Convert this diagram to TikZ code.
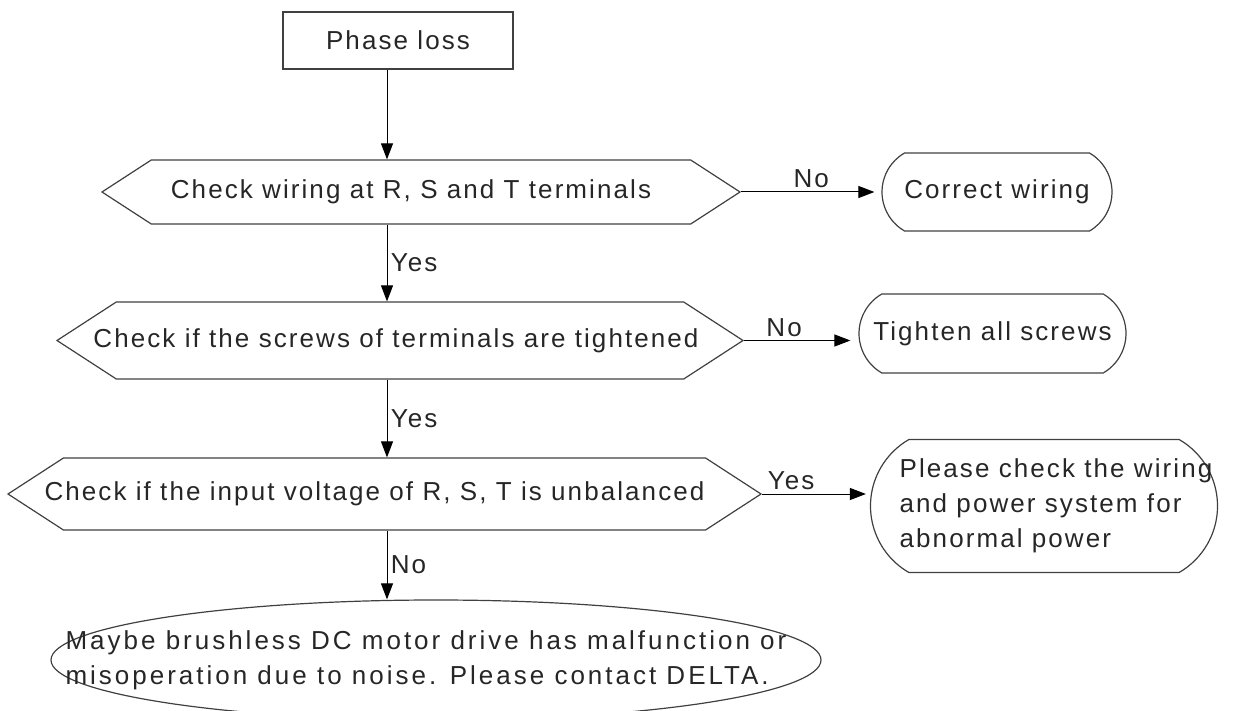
\documentclass[tikz,border=0pt]{standalone}
\usepackage{fontspec}
\setmainfont[LetterSpace=8]{Liberation Sans}
\usetikzlibrary{shapes.symbols,shapes.misc,shapes.geometric,arrows.meta}
\begin{document}
\begin{tikzpicture}[x=1pt,y=-1pt,
  every node/.style={font=\fontsize{26}{35}\selectfont, text=black!85},
  startbox/.style={draw=black!75, line width=1.2pt, minimum width=230pt, minimum height=57pt, inner sep=0pt},
  check/.style={draw=black!75, line width=1.2pt, signal, signal to=west and east, signal pointer angle=66, inner xsep=-40pt, inner ysep=0pt},
  fix/.style={draw=black!75, line width=1.2pt, rounded rectangle, rounded rectangle arc length=120, inner sep=0pt},
  flow/.style={-{Triangle[length=16pt,width=12pt]}, line width=1pt}]
\useasboundingbox (0,0) rectangle (1235,711);
\coordinate (spine) at (387,0);
% start and checks
\node[startbox] (start) at (398,40.5) {Phase loss};
\node[check, minimum width=638pt, minimum height=64pt] (wiring) at (421,192) {\hspace*{-20pt}Check wiring at R, S and T terminals};
\node[check, minimum width=686pt, minimum height=77pt] (screws) at (400,340.5) {\hspace*{-8pt}Check if the screws of terminals are tightened};
\node[check, minimum width=753pt, minimum height=72pt] (voltage) at (384.5,494) {\hspace*{-20pt}Check if the input voltage of R, S, T is unbalanced};
% remedies
\node[fix, minimum width=230pt, minimum height=78pt] (correct) at (997,192) {Correct wiring};
\node[fix, minimum width=267pt, minimum height=79pt] (tighten) at (992.5,333.5) {Tighten all screws};
\node[fix, minimum width=347pt, minimum height=133pt,
  label={[align=left, xshift=12pt]center:Please check the wiring\\and power system for\\abnormal power}] (power) at (1044,506) {};
\node[draw=black!75, line width=1.2pt, ellipse, minimum width=770pt, minimum height=120pt,
  label={[align=left, xshift=-10pt, font=\fontsize{26}{35}\selectfont\addfontfeature{LetterSpace=11.5}]center:Maybe brushless DC motor drive has malfunction or\\misoperation due to noise. Please contact DELTA.}] (delta) at (436,660) {};
% arrows
\draw[flow] (start.south -| spine) -- (wiring.north -| spine);
\draw[flow] (wiring.south -| spine) -- node[right]{Yes} (screws.north -| spine);
\draw[flow] (screws.south -| spine) -- node[right]{Yes} (voltage.north -| spine);
\draw[flow] (voltage.south -| spine) -- node[right]{No} (delta.north -| spine);
\draw[flow, shorten >=7pt] (wiring.east) -- node[above]{No} (correct.west);
\draw[flow, shorten >=8pt] (screws.east) -- node[above, pos=0.35]{No} (screws.east -| tighten.west);
\draw[flow, shorten >=4pt] (voltage.east) -- node[above, pos=0.27]{Yes} (voltage.east -| power.west);
\end{tikzpicture}
\end{document}
